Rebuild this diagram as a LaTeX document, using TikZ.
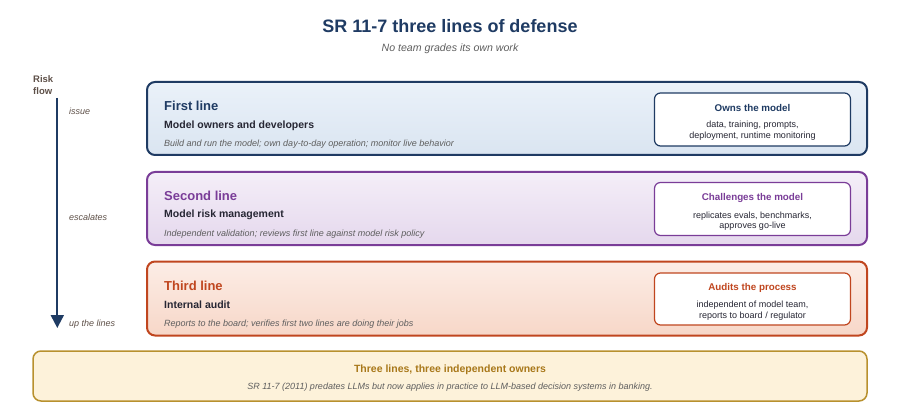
\documentclass[tikz,border=0pt]{standalone}
\usepackage{fontspec}
\setmainfont{Liberation Sans}
\usetikzlibrary{arrows.meta}
\definecolor{navy}{HTML}{1F3B63}
\definecolor{purp}{HTML}{7A3D98}
\definecolor{rust}{HTML}{C0461F}
\definecolor{gold}{HTML}{B8912E}
\definecolor{goldtxt}{HTML}{A8781A}
\definecolor{darktxt}{HTML}{262633}
\definecolor{graytxt}{HTML}{5E5E5E}
\definecolor{browntxt}{HTML}{5E5048}
\begin{document}
\begin{tikzpicture}[x=1pt,y=-1pt,
  outerbox/.style={line width=2pt, rounded corners=8pt, minimum width=720pt, minimum height=73pt, inner sep=0pt},
  innerbox/.style={line width=1.2pt, rounded corners=6pt, fill=white, minimum width=196pt, minimum height=53pt, inner sep=0pt},
  headtxt/.style={anchor=west, inner sep=0pt, font=\fontsize{13}{15}\selectfont\bfseries},
  subtxt/.style={anchor=west, inner sep=0pt, text=darktxt, font=\fontsize{10.5}{12}\selectfont\bfseries},
  desctxt/.style={anchor=west, inner sep=0pt, text=graytxt, font=\fontsize{9}{10}\selectfont\itshape},
  ibtitle/.style={inner sep=0pt, font=\fontsize{9.8}{11}\selectfont\bfseries},
  ibtxt/.style={inner sep=0pt, text=darktxt, font=\fontsize{9}{10}\selectfont},
  flowlbl/.style={anchor=west, inner sep=0pt, text=browntxt, font=\fontsize{9}{10}\selectfont\itshape},
]
\useasboundingbox (0,0) rectangle (900,409);

% title
\node[inner sep=0pt, text=navy, font=\fontsize{18}{21}\selectfont\bfseries] (title) at (450,26) {SR 11-7 three lines of defense};
\node[inner sep=0pt, text=graytxt, font=\fontsize{10.6}{12}\selectfont\itshape] (subtitle) at (450,49) {No team grades its own work};

% risk flow
\node[anchor=west, inner sep=0pt, text=browntxt, font=\fontsize{9.5}{11}\selectfont\bfseries] (risk) at (33,78.7) {Risk};
\node[anchor=west, inner sep=0pt, text=browntxt, font=\fontsize{9.5}{11}\selectfont\bfseries] (flow) at (33,91) {flow};
\coordinate (fa) at (57.3,98);
\coordinate (fb) at (57.3,328);
\draw[navy, line width=2pt, -{Triangle[width=13pt,length=13pt]}] (fa) -- (fb);
\node[flowlbl] (issue) at (69,111.7) {issue};
\node[flowlbl] (esc) at (69,217.7) {escalates};
\node[flowlbl] (up) at (69,324.5) {up the lines};

% first line
\node[outerbox, draw=navy, top color={rgb,255:red,234;green,241;blue,249}, bottom color={rgb,255:red,218;green,229;blue,241}] (l1) at (507,118.5) {};
\node[headtxt, text=navy] (l1h) at (164,105.5) {First line};
\node[subtxt] (l1s) at (164,125.3) {Model owners and developers};
\node[desctxt] (l1d) at (164,144) {Build and run the model; own day-to-day operation; monitor live behavior};
\node[innerbox, draw=navy] (b1) at (752.5,119.5) {};
\node[ibtitle, text=navy] (b1t) at (752.5,107.8) {Owns the model};
\node[ibtxt] (b1a) at (752.5,125.2) {data, training, prompts,};
\node[ibtxt] (b1b) at (752.5,136.6) {deployment, runtime monitoring};

% second line
\node[outerbox, draw=purp, top color={rgb,255:red,244;green,238;blue,248}, bottom color={rgb,255:red,229;green,216;blue,237}] (l2) at (507,208.5) {};
\node[headtxt, text=purp] (l2h) at (164,195.5) {Second line};
\node[subtxt] (l2s) at (164,215.3) {Model risk management};
\node[desctxt] (l2d) at (164,234) {Independent validation; reviews first line against model risk policy};
\node[innerbox, draw=purp] (b2) at (752.5,209) {};
\node[ibtitle, text=purp] (b2t) at (752.5,198.2) {Challenges the model};
\node[ibtxt] (b2a) at (752.5,215.9) {replicates evals, benchmarks,};
\node[ibtxt] (b2b) at (752.5,226.6) {approves go-live};

% third line
\node[outerbox, draw=rust, minimum height=74pt, top color={rgb,255:red,252;green,237;blue,230}, bottom color={rgb,255:red,247;green,215;blue,200}] (l3) at (507,298.5) {};
\node[headtxt, text=rust] (l3h) at (164,285.5) {Third line};
\node[subtxt] (l3s) at (164,305) {Internal audit};
\node[desctxt] (l3d) at (164,324) {Reports to the board; verifies first two lines are doing their jobs};
\node[innerbox, draw=rust, minimum height=52pt] (b3) at (752.5,299) {};
\node[ibtitle, text=rust] (b3t) at (752.5,288.2) {Audits the process};
\node[ibtxt] (b3a) at (752.5,305.2) {independent of model team,};
\node[ibtxt] (b3b) at (752.5,316.6) {reports to board / regulator};

% bottom
\node[draw=gold, line width=1.5pt, rounded corners=8pt, fill={rgb,255:red,253;green,242;blue,218}, minimum width=834pt, minimum height=50pt, inner sep=0pt] (note) at (450,376) {};
\node[inner sep=0pt, text=goldtxt, font=\fontsize{10.5}{12}\selectfont\bfseries] (notet) at (450,369.8) {Three lines, three independent owners};
\node[inner sep=0pt, text=graytxt, font=\fontsize{9}{10}\selectfont\itshape] (noted) at (450,387.2) {SR 11-7 (2011) predates LLMs but now applies in practice to LLM-based decision systems in banking.};
\end{tikzpicture}
\end{document}
